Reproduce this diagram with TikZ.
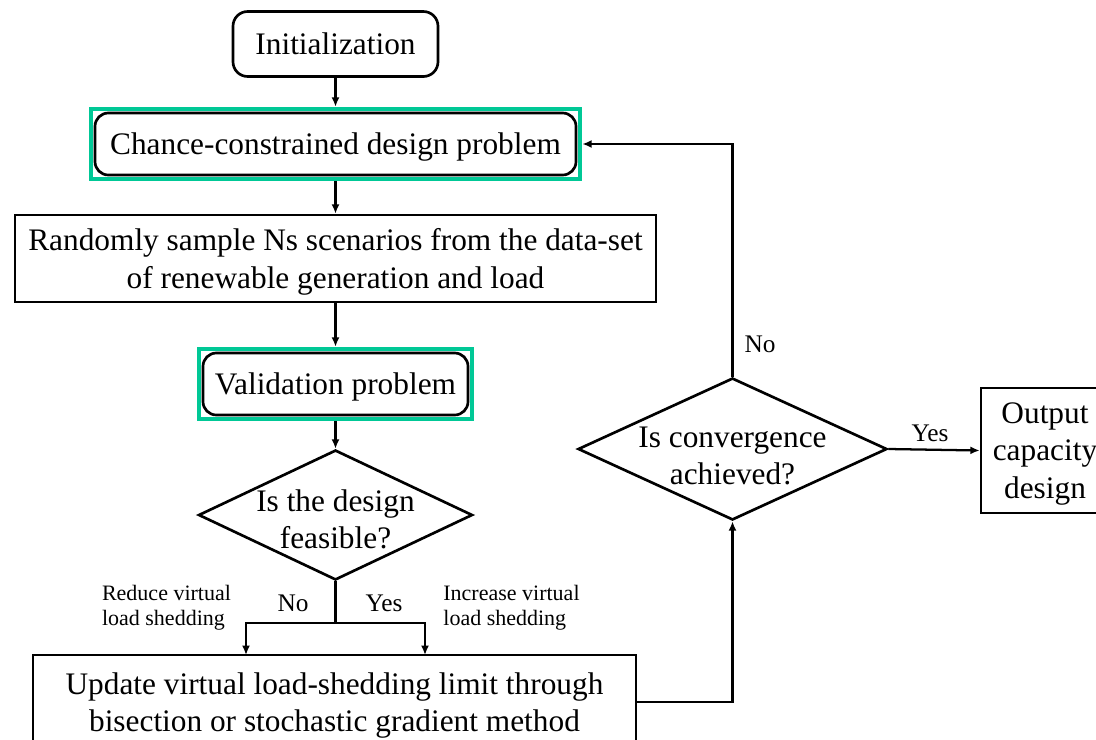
\documentclass[tikz,border=0pt]{standalone}
\usepackage{fontspec}
\setmainfont{Liberation Serif}
\usetikzlibrary{arrows.meta,shapes.geometric,fit}
\definecolor{framegreen}{RGB}{0,200,150}
\def\px{0.75pt}

\begin{document}
\begin{tikzpicture}[x=\px,y=-\px,>={Latex[length=7pt,width=6pt]},line width=1.7pt]
    \tikzstyle{txt}=[font=\fontsize{23.5}{28}\selectfont,align=center,inner sep=0pt,text depth=0pt]
    \tikzstyle{stepbox}=[txt,draw,line width=2pt]
    \tikzstyle{stepround}=[stepbox,rounded corners=10pt]
    \tikzstyle{greenframe}=[draw=framegreen,line width=3pt,inner sep=2.2pt]
    \tikzstyle{decision}=[diamond,draw,line width=2pt,inner sep=0pt]
    \tikzstyle{lbl}=[font=\fontsize{19}{22}\selectfont,inner sep=0pt]
    \tikzstyle{note}=[font=\fontsize{16.5}{18.8}\selectfont,align=left,inner sep=0pt]

    \useasboundingbox (0,0) rectangle (1096,739);
    \clip (0,0) rectangle (1096,739);

    % main column
    \node[stepround, minimum width=205*\px, minimum height=65*\px, rounded corners=11pt] (init) at (335.5,44) {Initialization};
    \node[stepround, minimum width=481*\px, minimum height=62*\px] (chance) at (335.5,144) {Chance-constrained design problem};
    \node[greenframe, fit=(chance)] (chance frame) {};
    \node[stepbox, minimum width=641*\px, minimum height=87*\px] (random) at (335.5,258.5) {Randomly sample Ns scenarios from the data-set\\of renewable generation and load};
    \node[stepround, minimum width=265*\px, minimum height=62*\px] (valid) at (335.5,384) {Validation problem};
    \node[greenframe, fit=(valid)] (valid frame) {};
    \node[decision, minimum width=274*\px, minimum height=130*\px, label={[txt,yshift=-3pt]center:Is the design\\feasible?}] (feas) at (335.5,515) {};
    \node[stepbox, minimum width=603*\px, minimum height=94*\px] (update) at (334.5,702) {Update virtual load-shedding limit through\\bisection or stochastic gradient method};

    % right column
    \node[decision, minimum width=309*\px, minimum height=142*\px, label={[txt,yshift=-5pt]center:Is convergence\\achieved?}] (conv) at (732.5,449) {};
    \node[stepbox, minimum width=128*\px, minimum height=125*\px] (output) at (1045,450.5) {Output\\capacity\\design};

    \coordinate (split) at (335.5,623);
    \coordinate (reduce end) at (246,655);
    \coordinate (increase end) at (425,655);

    \draw[->] (init) -- (chance frame);
    \draw[->] (chance frame) -- (random);
    \draw[->] (random) -- (valid frame);
    \draw[->] (valid frame) -- (feas);
    \draw (feas.south) -- (split);
    \draw[->] (split) -| (reduce end);
    \draw[->] (split) -| (increase end);
    \draw[->] (update.east) -| (conv.south);
    \draw[->] (conv.north) |- (chance frame.east);
    \draw[->] (conv.east) -- (output.west);

    % labels
    \node[lbl] (no feas) at (293,603) {No};
    \node[lbl] (yes feas) at (384,603) {Yes};
    \node[note] (reduce) at (166.5,608) {Reduce virtual\\load shedding};
    \node[note] (increase) at (511.5,608) {Increase virtual\\load shedding};
    \node[lbl] (no conv) at (760,344) {No};
    \node[lbl] (yes conv) at (930,433) {Yes};
\end{tikzpicture}
\end{document}
